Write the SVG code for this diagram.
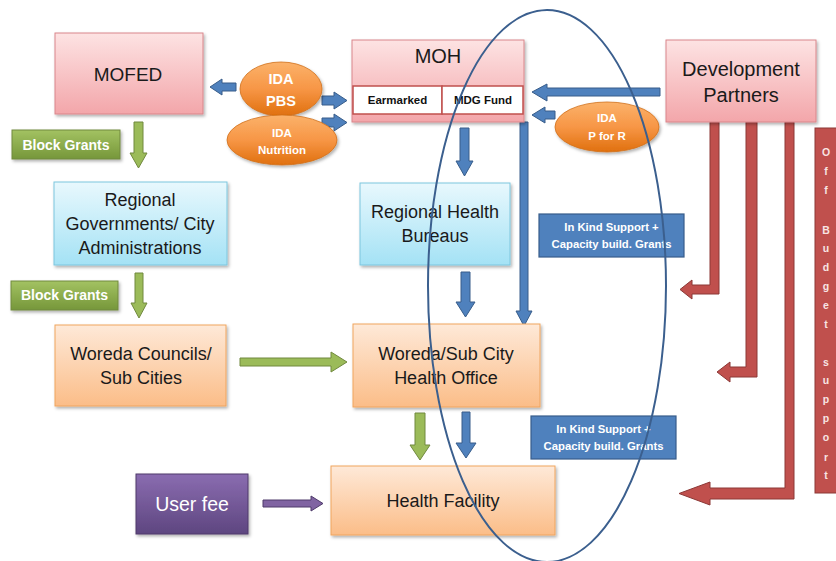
<svg xmlns="http://www.w3.org/2000/svg" width="836" height="561" viewBox="0 0 836 561">
<defs>
<linearGradient id="gPink" x1="0" y1="0" x2="0" y2="1"><stop offset="0" stop-color="#fde3e3"/><stop offset="1" stop-color="#f3a6aa"/></linearGradient>
<linearGradient id="gBlue" x1="0" y1="0" x2="0" y2="1"><stop offset="0" stop-color="#e8f8fd"/><stop offset="1" stop-color="#a4e2f5"/></linearGradient>
<linearGradient id="gOrange" x1="0" y1="0" x2="0" y2="1"><stop offset="0" stop-color="#fee9d8"/><stop offset="1" stop-color="#fbbd88"/></linearGradient>
<linearGradient id="gGreen" x1="0" y1="0" x2="0" y2="1"><stop offset="0" stop-color="#a3c262"/><stop offset="1" stop-color="#76973a"/></linearGradient>
<linearGradient id="gPurple" x1="0" y1="0" x2="0" y2="1"><stop offset="0" stop-color="#8a6cb0"/><stop offset="1" stop-color="#5e4680"/></linearGradient>
<linearGradient id="gOval" x1="0" y1="0" x2="0" y2="1"><stop offset="0" stop-color="#fbb26a"/><stop offset="0.5" stop-color="#f79646"/><stop offset="1" stop-color="#e0700e"/></linearGradient>
<filter id="sh" x="-10%" y="-10%" width="130%" height="140%"><feDropShadow dx="1.5" dy="2" stdDeviation="1.5" flood-color="#000" flood-opacity="0.3"/></filter>
</defs>
<style>
.pink{fill:url(#gPink);stroke:#d9868b;stroke-width:1}
.lblue{fill:url(#gBlue);stroke:#7cc6de;stroke-width:1}
.orange{fill:url(#gOrange);stroke:#efa55e;stroke-width:1}
.green{fill:url(#gGreen);stroke:#71893f;stroke-width:1}
.purple{fill:url(#gPurple);stroke:#4e3a6a;stroke-width:1}
.oval{fill:url(#gOval);stroke:#d0701a;stroke-width:0.8}
.kind{fill:#4f81bd;stroke:#385d8a;stroke-width:1.2}
.inner{fill:#ffffff;stroke:#c0504d;stroke-width:1.5}
.ab{fill:#4f81bd;stroke:#385d8a;stroke-width:1}
.ag{fill:#9bbb59;stroke:#71893f;stroke-width:1}
.ar{fill:#c0504d;stroke:#8c3836;stroke-width:1}
.ap{fill:#8064a2;stroke:#4e3a6a;stroke-width:1}
.t{font-family:"Liberation Sans",Arial,sans-serif;fill:#1a1a1a;text-anchor:middle}
.w{font-family:"Liberation Sans",Arial,sans-serif;fill:#ffffff;font-weight:bold;text-anchor:middle}
.wn{font-family:"Liberation Sans",Arial,sans-serif;fill:#ffffff;font-weight:normal;text-anchor:middle}
.ob{font-family:"Liberation Sans",Arial,sans-serif;fill:#f8e4e3;font-weight:bold;text-anchor:middle}
.b{font-family:"Liberation Sans",Arial,sans-serif;fill:#111;font-weight:bold;text-anchor:middle}
</style>

<g id="connectors">
<path class="ag" d="M134,122 H143 V153 H147 L138.5,168 L130,153 H134 Z"/>
<path class="ag" d="M135,273 H143 V303 H147 L139,318 L131,303 H135 Z"/>
<path class="ag" d="M415,413 H425 V445 H430 L420,460 L410,445 H415 Z"/>
<path class="ag" d="M240,358 H331 V352 L347,362 L331,372 V366 H240 Z"/>
<path class="ab" d="M460,128 H469 V161 H473 L464.5,176 L456,161 H460 Z"/>
<path class="ab" d="M520,122 H528 V311 H532 L524,326 L516,311 H520 Z"/>
<path class="ab" d="M461,272 H470 V302 H475 L465.5,317 L456,302 H461 Z"/>
<path class="ab" d="M462,412 H470 V443 H476 L466,458 L456,443 H462 Z"/>
<path class="ab" d="M236,83 V91 H222 V95 L210,87 L222,79 V83 Z"/>
<path class="ab" d="M660,88 V96 H547 V101 L532,92 L547,84 V88 Z"/>
<path class="ab" d="M555,111 V119 H545 V123 L532,115 L545,107 V111 Z"/>
<path class="ab" d="M322,96 H334 V92 L347,100.5 L334,109 V105 H322 Z"/>
<path class="ab" d="M322,118 H334 V114 L347,122.5 L334,131 V127 H322 Z"/>
<path class="ap" d="M263,500 H311 V496 L323,503.5 L311,511 V507 H263 Z"/>
<path class="ar" d="M710,122 H719 V294 H692 V299 L680,289.5 L692,280 V285 H710 Z"/>
<path class="ar" d="M746,122 H757 V377 H730 V382 L717,372 L730,362 V367 H746 Z"/>
<path class="ar" d="M785,122 H794 V499 H710 V505 L679,493.5 L710,482 V488 H785 Z"/>
</g>

<g id="mofed"><rect class="pink" x="55" y="33" width="148" height="81" filter="url(#sh)"/><text class="t" x="128" y="81" font-size="19">MOFED</text></g>

<g id="moh"><rect class="pink" x="352" y="40" width="172" height="82" filter="url(#sh)"/><text class="t" x="438" y="63" font-size="20">MOH</text></g>
<g id="earmarked"><rect class="inner" x="353" y="86" width="89" height="28"/><text class="b" x="397.5" y="104" font-size="11.5">Earmarked</text></g>
<g id="mdg"><rect class="inner" x="442" y="86" width="81" height="28"/><text class="b" x="483" y="104" font-size="11.5">MDG Fund</text></g>

<g id="dp"><rect class="pink" x="666" y="40" width="150" height="82" filter="url(#sh)"/><text class="t" x="741" y="76" font-size="20">Development</text><text class="t" x="741" y="102" font-size="20">Partners</text></g>

<g id="ida-pbs"><ellipse class="oval" cx="281" cy="89" rx="41" ry="27" filter="url(#sh)"/><text class="w" x="281" y="84" font-size="14.5">IDA</text><text class="w" x="281" y="106" font-size="14.5">PBS</text></g>
<g id="ida-nutrition"><ellipse class="oval" cx="282" cy="140" rx="55" ry="25" filter="url(#sh)"/><text class="w" x="282" y="137" font-size="11.5">IDA</text><text class="w" x="282" y="154" font-size="11.5">Nutrition</text></g>
<g id="ida-pforr"><ellipse class="oval" cx="607" cy="127" rx="52" ry="25" filter="url(#sh)"/><text class="w" x="607" y="122" font-size="11.5">IDA</text><text class="w" x="607" y="140" font-size="11.5">P for R</text></g>

<g id="bg1"><rect class="green" x="12" y="130" width="108" height="29" filter="url(#sh)"/><text class="w" x="66" y="150" font-size="14">Block Grants</text></g>
<g id="bg2"><rect class="green" x="11" y="281" width="107" height="29" filter="url(#sh)"/><text class="w" x="64.5" y="300" font-size="14">Block Grants</text></g>

<g id="regional-gov"><rect class="lblue" x="54" y="182" width="173" height="83" filter="url(#sh)"/><text class="t" x="140" y="206" font-size="18">Regional</text><text class="t" x="140" y="230" font-size="18">Governments/ City</text><text class="t" x="140" y="254" font-size="18">Administrations</text></g>

<g id="rhb"><rect class="lblue" x="360" y="183" width="150" height="82" filter="url(#sh)"/><text class="t" x="435" y="218" font-size="18">Regional Health</text><text class="t" x="435" y="242" font-size="18">Bureaus</text></g>

<g id="woreda-councils"><rect class="orange" x="55" y="325" width="171" height="81" filter="url(#sh)"/><text class="t" x="141" y="360" font-size="18">Woreda Councils/</text><text class="t" x="141" y="384" font-size="18">Sub Cities</text></g>

<g id="woreda-health"><rect class="orange" x="353" y="324" width="187" height="83" filter="url(#sh)"/><text class="t" x="446" y="360" font-size="18">Woreda/Sub City</text><text class="t" x="446" y="384" font-size="18">Health Office</text></g>

<g id="health-facility"><rect class="orange" x="331" y="466" width="224" height="69" filter="url(#sh)"/><text class="t" x="443" y="507" font-size="18">Health Facility</text></g>

<g id="user-fee"><rect class="purple" x="136" y="474" width="112" height="60" filter="url(#sh)"/><text class="wn" x="192" y="511" font-size="19.5">User fee</text></g>

<g id="inkind1"><rect class="kind" x="539" y="214" width="145" height="43"/><text class="w" x="611.5" y="231" font-size="11.3">In Kind Support +</text><text class="w" x="611.5" y="248" font-size="11.3">Capacity build. Grants</text></g>
<g id="inkind2"><rect class="kind" x="531" y="416" width="145" height="43"/><text class="w" x="603.5" y="433" font-size="11.3">In Kind Support +</text><text class="w" x="603.5" y="450" font-size="11.3">Capacity build. Grants</text></g>

<g id="off-budget"><rect class="ar" x="815" y="128" width="30" height="365"/>
<text class="ob" font-size="10.5"><tspan x="826" y="156">O</tspan><tspan x="826" y="175">f</tspan><tspan x="826" y="194">f</tspan><tspan x="826" y="234">B</tspan><tspan x="826" y="252">u</tspan><tspan x="826" y="271">d</tspan><tspan x="826" y="290">g</tspan><tspan x="826" y="309">e</tspan><tspan x="826" y="328">t</tspan><tspan x="826" y="366">s</tspan><tspan x="826" y="384">u</tspan><tspan x="826" y="403">p</tspan><tspan x="826" y="422">p</tspan><tspan x="826" y="441">o</tspan><tspan x="826" y="461">r</tspan><tspan x="826" y="479">t</tspan></text></g>

<g id="highlight"><ellipse cx="547" cy="286" rx="119" ry="276" fill="none" stroke="#3b5f8e" stroke-width="2"/></g>
</svg>
